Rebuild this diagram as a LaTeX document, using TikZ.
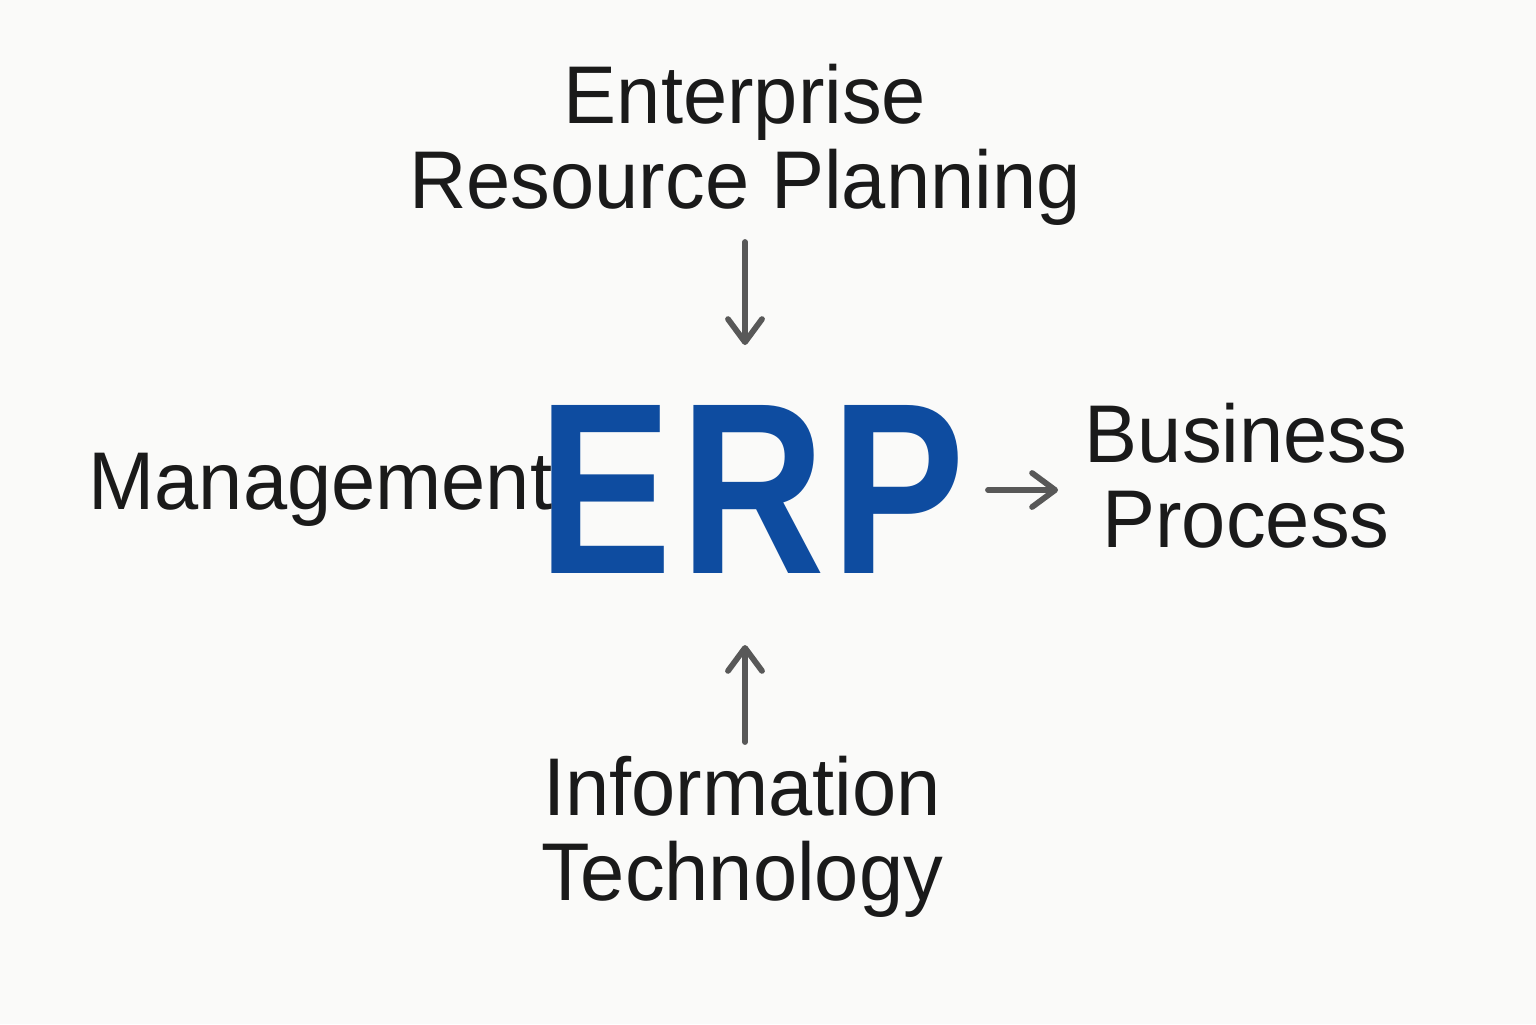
\documentclass[tikz,border=0pt]{standalone}
\usepackage{fontspec}
\newfontfamily\lblfont[FakeStretch=0.97]{Liberation Sans}
\newfontfamily\erpfont[FakeStretch=0.82]{Liberation Sans Bold}
\usepackage{tikz}
\usetikzlibrary{positioning,arrows.meta}
\definecolor{bgpaper}{RGB}{250,250,249}
\definecolor{inkdark}{RGB}{26,26,26}
\definecolor{erpblue}{RGB}{14,76,160}
\definecolor{flowgray}{RGB}{88,88,88}
\tikzset{
  lbl/.style={font=\lblfont\fontsize{23.3}{24.2}\selectfont,text=inkdark,inner sep=0pt,align=center},
  bigerp/.style={font=\erpfont\fontsize{69.5}{70}\selectfont,text=erpblue,inner sep=0pt},
  flow/.style={-{Straight Barb[length=2.3mm,width=3.4mm,round]},line width=1.65pt,flowgray,line cap=round},
}
\begin{document}
\begin{tikzpicture}
  % page
  \fill[bgpaper] (0,0) rectangle (15.36,-10.24);
  \useasboundingbox (0,0) rectangle (15.36,-10.24);
  % centre word
  \node[bigerp,anchor=north] (erp) at (7.52,-4.05) {E\kern0.035em R\kern0.025em P};
  % the four ideas round it
  \node[lbl,anchor=north] (erpname) at (7.45,-0.63) {Enterprise\\Resource Planning};
  \node[lbl,anchor=north east] (mgmt) at (5.53,-4.52) {Management};
  \node[lbl,anchor=north] (bizproc) at (12.46,-4.02) {Business\\Process};
  \node[lbl,anchor=north] (infotech) at (7.42,-7.55) {Information\\Technology};
  % arrows
  \coordinate (d1) at (7.45,-2.42); \coordinate (d2) at (7.45,-3.45);
  \coordinate (r1) at (9.88,-4.90); \coordinate (r2) at (10.58,-4.90);
  \coordinate (u1) at (7.45,-7.42); \coordinate (u2) at (7.45,-6.45);
  \draw[flow] (d1) -- (d2);
  \draw[flow] (r1) -- (r2);
  \draw[flow] (u1) -- (u2);
\end{tikzpicture}
\end{document}
